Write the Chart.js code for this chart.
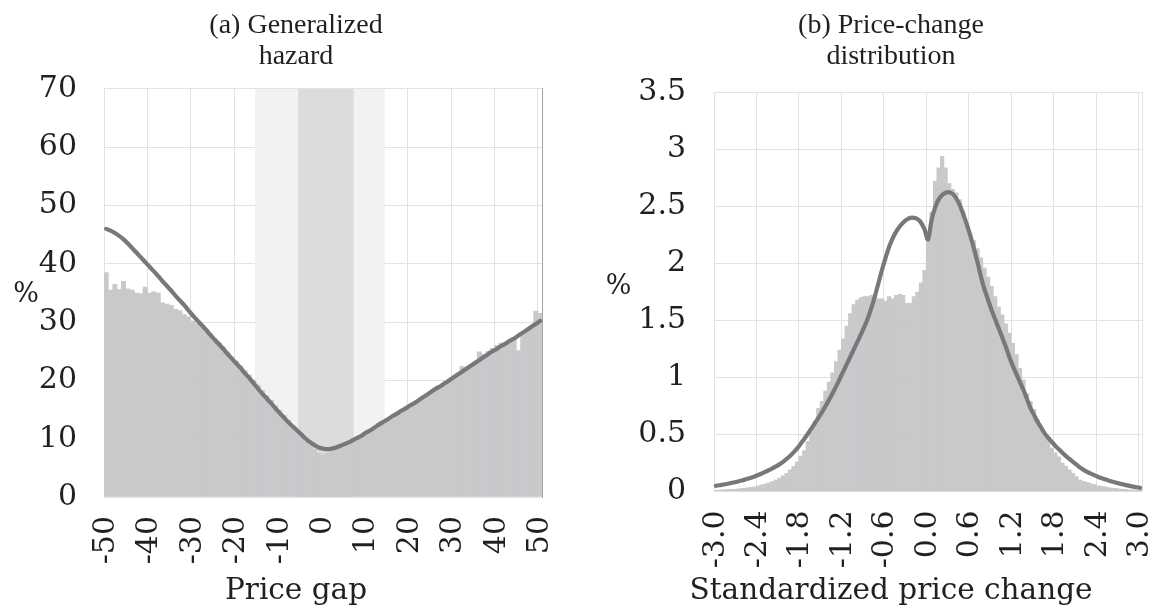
<!DOCTYPE html>
<html>
<head>
<meta charset="utf-8">
<script src="https://cdn.jsdelivr.net/npm/chart.js@4.4.1/dist/chart.umd.min.js"></script>
<style>
  html, body { margin: 0; padding: 0; background: #ffffff; overflow: hidden; width: 1154px; height: 609px; }
  .panel { position: absolute; top: 0; }
  #panelA { left: 0; width: 592px; }
  #panelB { left: 596px; width: 590px; }
</style>
</head>
<body>
<div class="panel" id="panelA"><canvas id="hazard" width="592" height="609"></canvas></div>
<div class="panel" id="panelB"><canvas id="dist" width="590" height="609"></canvas></div>
<script>
// ---------- Panel (a): generalized hazard by price gap ----------
// one-unit price-gap bins from -50 to 50
const gapBins = [];
for (let g = -50; g <= 50; g++) gapBins.push(String(g));

// empirical hazard, % (histogram)
const hazardEmpirical = [
  38.5, 35.5, 36.5, 35.6, 37.0, 35.7, 35.5, 35.0, 34.9, 36.0,   // -50 .. -41
  35.0, 35.2, 35.0, 33.3, 33.1, 32.9, 32.2, 32.0, 31.3, 30.9,   // -40 .. -31
  30.2, 29.7, 29.1, 28.4, 28.0, 27.2, 26.5, 25.7, 24.9, 24.1,   // -30 .. -21
  23.3, 22.5, 21.7, 20.9, 20.0, 19.2, 18.3, 17.4, 16.6, 15.7,   // -20 .. -11
  14.9, 14.0, 13.2, 12.3, 11.5, 10.6, 9.7, 8.9, 8.2, 7.5,       // -10 .. -1
  7.2,                                                          // 0
  7.5, 7.9, 8.3, 8.6, 8.9, 9.2, 9.6, 10.0, 10.4, 10.9,          // 1 .. 10
  11.3, 11.8, 12.3, 12.7, 13.2, 13.7, 14.1, 14.6, 15.0, 15.5,   // 11 .. 20
  15.9, 16.4, 16.9, 17.4, 17.9, 18.4, 18.8, 19.3, 19.8, 20.3,   // 21 .. 30
  20.9, 22.4, 22.2, 22.6, 23.3, 24.9, 24.5, 25.0, 25.5, 26.0,   // 31 .. 40
  26.4, 26.5, 26.9, 27.2, 25.1, 28.0, 28.6, 29.3, 31.9, 31.5    // 41 .. 50
];

// model hazard, % (line)
const hazardModel = [
  46.0, 45.7, 45.3, 44.8, 44.2, 43.5, 42.7, 41.9, 41.1, 40.3,   // -50 .. -41
  39.5, 38.7, 37.9, 37.0, 36.2, 35.4, 34.5, 33.7, 32.9, 32.0,   // -40 .. -31
  31.1, 30.3, 29.5, 28.7, 27.8, 27.0, 26.2, 25.4, 24.5, 23.7,   // -30 .. -21
  22.9, 22.1, 21.2, 20.4, 19.5, 18.6, 17.7, 16.9, 16.1, 15.2,   // -20 .. -11
  14.4, 13.6, 12.8, 12.1, 11.4, 10.7, 10.0, 9.4, 8.9, 8.5,      // -10 .. -1
  8.3,                                                          // 0
  8.2, 8.3, 8.5, 8.8, 9.1, 9.4, 9.8, 10.2, 10.6, 11.1,          // 1 .. 10
  11.5, 12.0, 12.5, 12.95, 13.4, 13.9, 14.3, 14.8, 15.2, 15.7,  // 11 .. 20
  16.1, 16.6, 17.1, 17.6, 18.1, 18.6, 19.0, 19.5, 20.0, 20.5,   // 21 .. 30
  21.0, 21.5, 22.0, 22.5, 23.0, 23.5, 24.0, 24.5, 25.0, 25.4,   // 31 .. 40
  25.9, 26.3, 26.8, 27.2, 27.7, 28.2, 28.7, 29.2, 29.7, 30.2    // 41 .. 50
];

// shaded price-gap ranges [from, to]
const outerBand = [-15.7, 14.2];
const innerBand = [-5.8, 7.0];
const hazardTicks = [0, 10, 20, 30, 40, 50, 60, 70];

// ---------- Panel (b): standardized price-change distribution ----------
// 0.05-wide bins from -3.0 to 3.0
const changeBins = [];
for (let k = 0; k <= 120; k++) changeBins.push((-3 + k * 0.05).toFixed(2));

// empirical distribution, % (histogram)
const changeEmpirical = [
  0.010, 0.012, 0.014, 0.016, 0.018, 0.020, 0.022, 0.025, 0.028, 0.032,  // -3.00 .. -2.55
  0.036, 0.042, 0.050, 0.058, 0.066, 0.076, 0.088, 0.100, 0.118, 0.138,  // -2.50 .. -2.05
  0.160, 0.190, 0.220, 0.260, 0.310, 0.360, 0.440, 0.520, 0.620, 0.730,  // -2.00 .. -1.55
  0.790, 0.880, 0.960, 1.040, 1.140, 1.240, 1.340, 1.450, 1.560, 1.640,  // -1.50 .. -1.05
  1.680, 1.700, 1.710, 1.710, 1.720, 1.720, 1.690, 1.690, 1.670, 1.710,  // -1.00 .. -0.55
  1.690, 1.720, 1.730, 1.720, 1.650, 1.650, 1.710, 1.750, 1.830, 1.940,  // -0.50 .. -0.05
  2.210,                                                                 // 0.00
  2.450, 2.720, 2.840, 2.940, 2.840, 2.700, 2.650, 2.620, 2.560, 2.460,  // 0.05 .. 0.50
  2.340, 2.260, 2.200, 2.130, 2.050, 1.960, 1.880, 1.800, 1.710, 1.620,  // 0.55 .. 1.00
  1.550, 1.470, 1.390, 1.300, 1.200, 1.080, 0.980, 0.860, 0.790, 0.720,  // 1.05 .. 1.50
  0.630, 0.540, 0.490, 0.450, 0.380, 0.340, 0.305, 0.250, 0.220, 0.190,  // 1.55 .. 2.00
  0.160, 0.130, 0.100, 0.090, 0.080, 0.070, 0.060, 0.050, 0.045, 0.040,  // 2.05 .. 2.50
  0.035, 0.030, 0.027, 0.024, 0.020, 0.018, 0.015, 0.013, 0.011, 0.010   // 2.55 .. 3.00
];

// model distribution, % (line)
const changeModel = [
  0.050, 0.055, 0.060, 0.066, 0.072, 0.079, 0.086, 0.094, 0.102, 0.111,  // -3.00 .. -2.55
  0.121, 0.132, 0.145, 0.158, 0.172, 0.187, 0.203, 0.220, 0.238, 0.260,  // -2.50 .. -2.05
  0.285, 0.312, 0.343, 0.378, 0.418, 0.460, 0.505, 0.550, 0.597, 0.645,  // -2.00 .. -1.55
  0.695, 0.748, 0.803, 0.860, 0.920, 0.985, 1.050, 1.115, 1.180, 1.245,  // -1.50 .. -1.05
  1.310, 1.375, 1.445, 1.520, 1.610, 1.715, 1.830, 1.945, 2.050, 2.145,  // -1.00 .. -0.55
  2.220, 2.280, 2.325, 2.360, 2.385, 2.400, 2.400, 2.390, 2.360, 2.300,  // -0.50 .. -0.05
  2.210,                                                                 // 0.00
  2.380, 2.490, 2.560, 2.600, 2.620, 2.625, 2.610, 2.570, 2.510, 2.430,  // 0.05 .. 0.50
  2.340, 2.240, 2.130, 2.010, 1.880, 1.770, 1.680, 1.590, 1.510, 1.430,  // 0.55 .. 1.00
  1.350, 1.270, 1.180, 1.100, 1.030, 0.960, 0.890, 0.810, 0.730, 0.670,  // 1.05 .. 1.50
  0.610, 0.560, 0.510, 0.470, 0.435, 0.400, 0.370, 0.340, 0.310, 0.285,  // 1.55 .. 2.00
  0.260, 0.235, 0.210, 0.190, 0.172, 0.157, 0.143, 0.130, 0.118, 0.107,  // 2.05 .. 2.50
  0.097, 0.088, 0.079, 0.071, 0.063, 0.056, 0.049, 0.043, 0.037, 0.032   // 2.55 .. 3.00
];
const changeTicks = [0, 0.5, 1, 1.5, 2, 2.5, 3, 3.5];

// ---------- shared styling ----------
const SERIF = '"DejaVu Serif", "Liberation Serif", serif';
const TITLE_SERIF = '"Liberation Serif", "DejaVu Serif", serif';
const INK = '#231f20';
const GRID = '#e2e2e2';
const BAR = '#c8c9cb';
const LINE = '#78787a';

// shaded ranges behind the bars, positioned through the x scale
const bandsPlugin = {
  id: 'bands',
  beforeDatasetsDraw(chart, args, opts) {
    if (!opts.ranges) return;
    const { ctx, chartArea } = chart;
    const x = chart.scales.x;
    ctx.save();
    opts.ranges.forEach(r => {
      const x0 = x.getPixelForValue(r.from - opts.origin);
      const x1 = x.getPixelForValue(r.to - opts.origin);
      ctx.fillStyle = r.color;
      ctx.fillRect(x0, chartArea.top, x1 - x0, chartArea.bottom - chartArea.top);
    });
    ctx.restore();
  }
};

// upright unit label to the left of the value axis
const unitPlugin = {
  id: 'unitLabel',
  afterDraw(chart, args, opts) {
    const { ctx, chartArea } = chart;
    ctx.save();
    ctx.font = opts.size + 'px ' + SERIF;
    ctx.fillStyle = INK;
    ctx.textAlign = 'center';
    ctx.textBaseline = 'middle';
    ctx.fillText(opts.text, chartArea.left - opts.gap, (chartArea.top + chartArea.bottom) / 2 + opts.dy);
    ctx.restore();
  }
};

function panel(canvasId, cfg) {
  return new Chart(document.getElementById(canvasId), {
    type: 'bar',
    data: {
      labels: cfg.labels,
      datasets: [
        {
          type: 'line', data: cfg.model, yAxisID: 'y', order: 0,
          borderColor: LINE, borderWidth: 4.2, pointRadius: 0, tension: 0.3,
          borderCapStyle: 'round', borderJoinStyle: 'round', fill: false
        },
        {
          type: 'bar', data: cfg.empirical, yAxisID: 'y', order: 1,
          backgroundColor: BAR, borderWidth: 0, barPercentage: 1, categoryPercentage: 1
        }
      ]
    },
    options: {
      responsive: false,
      animation: false,
      events: [],
      layout: { padding: 0 },
      plugins: {
        legend: { display: false },
        tooltip: { enabled: false },
        title: {
          display: true, text: cfg.title, color: INK,
          font: { family: TITLE_SERIF, size: 28, weight: 'normal', lineHeight: 1.107 },
          padding: { top: 10.5, bottom: cfg.titleGap }
        },
        subtitle: {
          display: true, position: 'bottom', text: cfg.axisTitle, color: INK,
          font: { family: SERIF, size: 29.5, weight: 'normal', lineHeight: 1.2 },
          padding: { top: 0, bottom: 0 }
        },
        bands: { ranges: cfg.bands, origin: cfg.origin },
        unitLabel: { text: '%', size: 27, gap: cfg.unitGap, dy: cfg.unitDy }
      },
      scales: {
        x: {
          type: 'category',
          offset: true,
          grid: {
            offset: true, drawTicks: false, lineWidth: 1,
            color: c => (c.index !== undefined && c.index % cfg.every === 0) ? GRID : 'rgba(0,0,0,0)'
          },
          border: { display: false },
          ticks: {
            autoSkip: false, minRotation: 90, maxRotation: 90, padding: 19,
            color: INK, font: { family: SERIF, size: 30 },
            callback: (v, i) => (i % cfg.every === 0 ? cfg.tickText(i) : '')
          },
          afterFit: s => {
            s.height = cfg.xHeight;
            s.paddingLeft = 0; s.paddingRight = 0;
          }
        },
        y: {
          min: 0, max: cfg.max,
          afterBuildTicks: s => { s.ticks = cfg.yTicks.map(v => ({ value: v })); },
          grid: { color: GRID, lineWidth: 1, drawTicks: false },
          border: { display: true, color: GRID },
          ticks: {
            padding: cfg.yPad, color: INK, font: { family: SERIF, size: 30 },
            callback: v => String(v)
          },
          afterFit: s => { s.width = cfg.yWidth; s.paddingTop = 0; s.paddingBottom = 0; }
        },
        edge: {
          type: 'linear', position: 'right', display: true,
          grid: { display: false, drawTicks: false },
          ticks: { display: false },
          border: { display: true, color: cfg.edgeColor, width: 1, z: 1 },
          afterFit: s => { s.width = cfg.edgeWidth; s.paddingTop = 0; s.paddingBottom = 0; }
        }
      }
    },
    plugins: [bandsPlugin, unitPlugin]
  });
}

panel('hazard', {
  labels: gapBins, empirical: hazardEmpirical, model: hazardModel,
  title: ['(a) Generalized', 'hazard'], titleGap: 16.5,
  axisTitle: 'Price gap',
  max: 70, yTicks: hazardTicks, yPad: 27, yWidth: 104,
  every: 10, tickText: i => gapBins[i],
  xHeight: 76.6, edgeWidth: 49.7, edgeColor: '#a3a3a3',
  origin: -50,
  bands: [
    { from: outerBand[0], to: outerBand[1], color: '#f1f2f4' },
    { from: innerBand[0], to: innerBand[1], color: '#dbdcde' }
  ],
  unitGap: 78, unitDy: 2
});

panel('dist', {
  labels: changeBins, empirical: changeEmpirical, model: changeModel,
  title: ['(b) Price-change', 'distribution'], titleGap: 20,
  axisTitle: 'Standardized price change',
  max: 3.5, yTicks: changeTicks, yPad: 28, yWidth: 118,
  every: 12, tickText: i => Number(changeBins[i]).toFixed(1),
  xHeight: 82.1, edgeWidth: 44, edgeColor: GRID,
  origin: -3,
  bands: null,
  unitGap: 95.5, unitDy: -5
});
</script>
</body>
</html>
